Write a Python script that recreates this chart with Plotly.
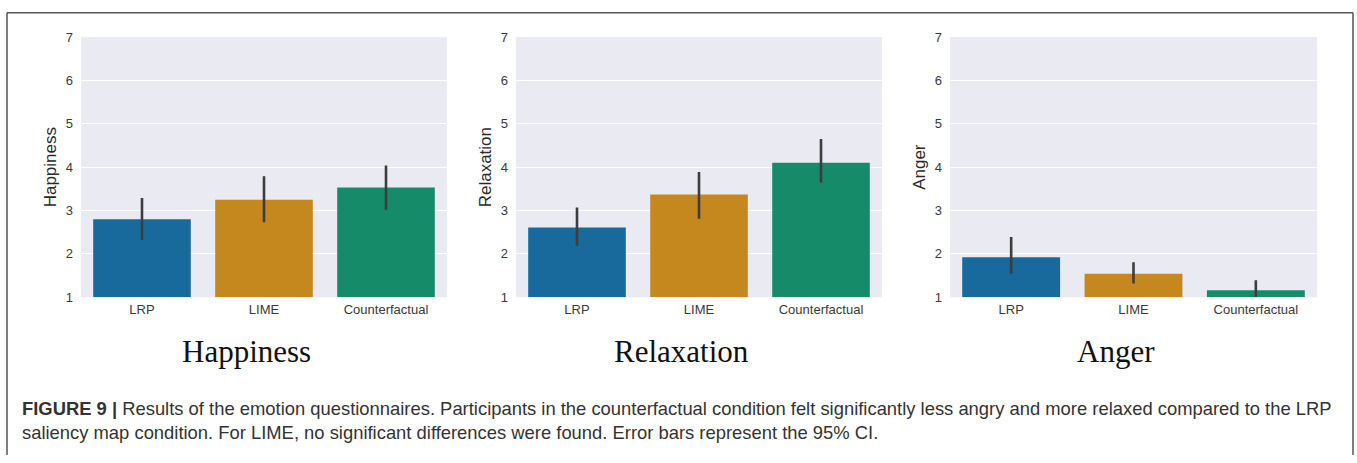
import plotly.graph_objects as go

# conditions shown on every panel
conditions = ["LRP", "LIME", "Counterfactual"]
bar_colors = ["#176a9b", "#c4881f", "#168b69"]

# emotion scores (means) and 95% CI bounds
happiness = [2.80, 3.25, 3.53]
happiness_lo = [2.32, 2.73, 3.02]
happiness_hi = [3.29, 3.79, 4.04]

relaxation = [2.61, 3.37, 4.10]
relaxation_lo = [2.18, 2.81, 3.64]
relaxation_hi = [3.07, 3.89, 4.65]

anger = [1.92, 1.54, 1.16]
anger_lo = [1.54, 1.32, 1.00]
anger_hi = [2.39, 1.81, 1.39]

y_ticks = [1, 2, 3, 4, 5, 6, 7]

W, H = 1357, 463

panels = [
    ("Happiness", happiness, happiness_lo, happiness_hi, (81, 447), 246),
    ("Relaxation", relaxation, relaxation_lo, relaxation_hi, (516, 882), 681),
    ("Anger", anger, anger_lo, anger_hi, (950, 1317), 1116),
]

def py(px):
    # pixel row -> paper y
    return 1 - px / H

fig = go.Figure()

for i, (name, vals, lo, hi, (x0, x1), title_x) in enumerate(panels):
    n = "" if i == 0 else str(i + 1)
    fig.add_trace(go.Bar(
        x=conditions, y=[v - 1 for v in vals], base=1,
        marker=dict(color=bar_colors, line=dict(width=0)),
        width=0.8,
        error_y=dict(
            type="data", symmetric=False,
            array=[h - v for h, v in zip(hi, vals)],
            arrayminus=[v - l for v, l in zip(vals, lo)],
            color="#3d3d3d", thickness=2.6, width=0,
        ),
        xaxis="x" + n, yaxis="y" + n, showlegend=False,
        hoverinfo="skip",
    ))
    fig.update_layout({
        "xaxis" + n: dict(
            domain=[x0 / W, x1 / W], anchor="y" + n,
            range=[-0.5, 2.5], showgrid=False, zeroline=False,
            ticks="", tickfont=dict(size=13, color="#3a3a3a"),
            ticklabelstandoff=3,
        ),
        "yaxis" + n: dict(
            domain=[py(300), py(31)], anchor="x" + n,
            range=[1, 7], tickvals=y_ticks, ticks="",
            showgrid=True, gridcolor="white", gridwidth=1.3,
            zeroline=False, showline=False,
            tickfont=dict(size=13, color="#3a3a3a"),
            ticklabelstandoff=7,
            title=dict(text=name, font=dict(size=17, color="#2a2a2a"), standoff=4),
        ),
    })
    fig.add_annotation(
        text=name, x=title_x / W, y=py(356), xref="paper", yref="paper",
        showarrow=False, xanchor="center", yanchor="middle",
        font=dict(family="Liberation Serif, Times New Roman, serif", size=31, color="#111"),
    )

# caption
fig.add_annotation(
    text="<b>FIGURE 9 |</b> Results of the emotion questionnaires. Participants in the counterfactual condition "
         "felt significantly less angry and more relaxed compared to the LRP",
    x=20 / W, y=py(415), xref="paper", yref="paper", showarrow=False,
    xanchor="left", yanchor="middle",
    font=dict(family="Liberation Sans, Arial, sans-serif", size=18.4, color="#333"),
)
fig.add_annotation(
    text="saliency map condition. For LIME, no significant differences were found. Error bars represent the 95% CI.",
    x=20 / W, y=py(440), xref="paper", yref="paper", showarrow=False,
    xanchor="left", yanchor="middle",
    font=dict(family="Liberation Sans, Arial, sans-serif", size=18.4, color="#333"),
)

# frame around the figure (left, top, right)
frame = dict(type="line", xref="paper", yref="paper", line=dict(color="#555", width=1.5))
fig.add_shape(**frame, x0=7 / W, x1=7 / W, y0=0, y1=py(6))
fig.add_shape(**frame, x0=7 / W, x1=1353 / W, y0=py(6), y1=py(6))
fig.add_shape(**frame, x0=1353 / W, x1=1353 / W, y0=0, y1=py(6))

fig.update_layout(
    width=W, height=H,
    margin=dict(l=0, r=0, t=0, b=0),
    paper_bgcolor="white", plot_bgcolor="#eaeaf2",
    font=dict(family="Liberation Sans, Arial, sans-serif"),
    bargap=0.2,
)

# drop the default 8px body margin so the figure sits at the window origin
fig.write_html(
    "out.html",
    config={"displayModeBar": False},
    post_script="document.body.style.margin='0px'; document.body.style.overflow='hidden';",
)
